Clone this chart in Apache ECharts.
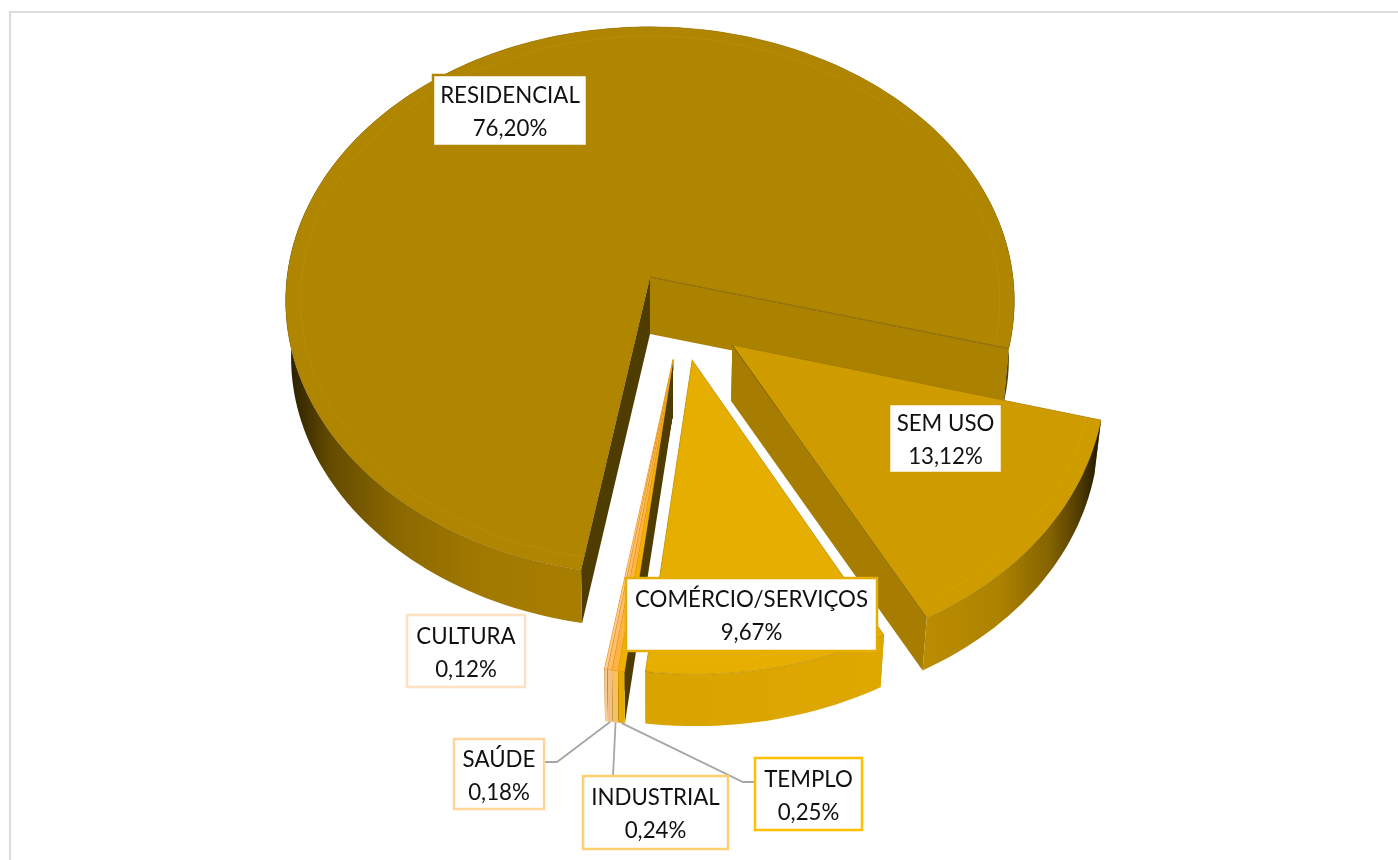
<!DOCTYPE html>
<html>
<head>
<meta charset="utf-8">
<title>Uso do solo</title>
<script src="https://cdn.jsdelivr.net/npm/echarts@6/dist/echarts.min.js"></script>
<style>
  html, body { margin: 0; padding: 0; background: #fff; }
  #chart { width: 1398px; height: 860px; }
</style>
</head>
<body>
<div id="chart"></div>
<script>
// pie order, clockwise from the residential slice
const categories = ['RESIDENCIAL', 'SEM USO', 'COMÉRCIO/SERVIÇOS', 'TEMPLO', 'INDUSTRIAL', 'SAÚDE', 'CULTURA']
const shares = [76.20, 13.12, 9.67, 0.25, 0.24, 0.18, 0.12]

const topColors = ['#b08500', '#cf9c00', '#e6ae00', '#f2b000', '#ffb340', '#ffbe6e', '#ffcb94']
const borderColors = ['#b08500', '#cf9c00', '#e6ae00', '#ffc000', '#ffcf70', '#ffd59a', '#ffe0c0']

// how far each slice is pulled out of the pie, in pie radii
const explode = [[0, 0], [0.222, 0.245], [0.113, 0.296], [0.062, 0.296], [0.062, 0.296], [0.062, 0.296], [0.062, 0.296]]

// label boxes: x, y, width, height
const labelBoxes = [
  [433, 75, 154, 71],
  [889, 404, 113, 69],
  [626, 578, 251, 73],
  [755, 758, 107, 72],
  [583, 776, 145, 73],
  [454, 739, 90, 70],
  [407, 615, 118, 72]
]
// leader line end points, only the tiny slices below the pie have them
const leaders = {
  3: [[743, 782], [754, 782]],
  4: [[613, 776]],
  5: [[557, 762], [544, 762]]
}

// perspective of the tilted pie
const cx = 650
const cy = 277
const radius = 363
const squash = 272
const persp = 0.087
const shrink = 0.985
const startAngle = 100

const rad = (deg) => (deg * Math.PI) / 180

const project = (x, y, bottom) => {
  const s = 1 / (1 - persp * y)
  let px = radius * x * s
  let py = squash * y * s
  if (bottom) {
    px = px * shrink
    py = py + 57 - 4 * y
  }
  return [cx + px, cy + py]
}

const total = shares.reduce((a, b) => a + b, 0)
const slices = []
let angle = startAngle
shares.forEach((v, i) => {
  const span = (v / total) * 360
  slices.push({ from: angle, to: angle + span })
  angle += span
})

const arcPoints = (i, r, bottom) => {
  const { from, to } = slices[i]
  const [ox, oy] = explode[i]
  const steps = Math.max(2, Math.ceil((to - from) / 1.5))
  const pts = []
  for (let k = 0; k <= steps; k++) {
    const a = rad(from + ((to - from) * k) / steps)
    pts.push(project(ox + r * Math.cos(a), oy + r * Math.sin(a), bottom))
  }
  return pts
}

const wallGradient = (stops) => ({
  type: 'linear',
  global: true,
  x: stops[0][0],
  y: 0,
  x2: stops[stops.length - 1][0],
  y2: 0,
  colorStops: stops.map(([x, color]) => ({
    offset: (x - stops[0][0]) / (stops[stops.length - 1][0] - stops[0][0]),
    color
  }))
})

const rimFills = [
  wallGradient([[292, '#2e2200'], [330, '#644b00'], [400, '#8c6900'], [480, '#a17900'], [580, '#a87e00'], [960, '#a87e00'], [1012, '#4a3700']]),
  wallGradient([[922, '#bb8d00'], [1000, '#ad8200'], [1050, '#846300'], [1080, '#4f3b00'], [1098, '#241b00']]),
  wallGradient([[645, '#d9a300'], [880, '#dfa800']]),
  '#e8ac00',
  '#f9c060',
  '#f3c084',
  '#fbc98a'
]
const cutColors = ['#4f3c00', '#a67d00', '#c99700', '#4f3c00', '#4f3c00', '#4f3c00', '#4f3c00']
const backCutColors = ['#ab8100', '#a67d00', '#c99700', '#4f3c00', '#4f3c00', '#4f3c00', '#4f3c00']

// slices are painted back to front
const drawOrder = [0, 1, 2, 6, 5, 4, 3]

const renderSlice = (params, api) => {
  const i = api.value(0)
  const base = params.dataIndex * 10
  const [ox, oy] = explode[i]
  const top = arcPoints(i, 1, false)
  const bottom = arcPoints(i, 1, true)
  const apexTop = project(ox, oy, false)
  const apexBottom = project(ox, oy, true)
  const children = []

  // cut faces: the one at the slice start and the one at its end
  children.push({
    type: 'polygon',
    z2: base,
    shape: { points: [apexTop, top[0], bottom[0], apexBottom] },
    style: { fill: cutColors[i] }
  })
  children.push({
    type: 'polygon',
    z2: base,
    shape: { points: [apexTop, top[top.length - 1], bottom[bottom.length - 1], apexBottom] },
    style: { fill: backCutColors[i] }
  })
  // rounded side
  children.push({
    type: 'polygon',
    z2: base + 1,
    shape: { points: top.concat(bottom.slice().reverse()) },
    style: { fill: rimFills[i] }
  })
  // flat top face
  children.push({
    type: 'polygon',
    z2: base + 2,
    shape: { points: [apexTop].concat(top) },
    style: { fill: topColors[i], stroke: i > 2 ? 'rgba(255,170,40,0.6)' : 'rgba(120,90,0,0.25)', lineWidth: 1, lineJoin: 'round' }
  })
  if (i < 2) {
    // darker seam where the top meets the cut face
    children.push({
      type: 'polyline',
      z2: base + 3,
      shape: { points: [apexTop, top[top.length - 1]] },
      style: { fill: 'none', stroke: 'rgba(80,60,0,0.4)', lineWidth: 1 }
    })
  }
  // faint bevel ring
  if (i < 3) {
    children.push({
      type: 'polyline',
      z2: base + 3,
      shape: { points: arcPoints(i, 0.96, false) },
      style: { fill: 'none', stroke: 'rgba(255,225,120,0.07)', lineWidth: 1 }
    })
  }
  return { type: 'group', children }
}

const fmt = (v) => v.toFixed(2).replace('.', ',') + '%'

const renderLabel = (params, api) => {
  const i = api.value(0)
  const [x, y, w, h] = labelBoxes[i]
  const children = []
  if (leaders[i]) {
    const arc = arcPoints(i, 1, true)
    const start = arc[Math.floor(arc.length / 2)]
    children.push({
      type: 'polyline',
      z2: 90,
      shape: { points: [start].concat(leaders[i]) },
      style: { fill: 'none', stroke: '#a6a6a6', lineWidth: 1.8 }
    })
  }
  children.push({
    type: 'rect',
    z2: 100,
    shape: { x, y, width: w, height: h },
    style: { fill: '#fff', stroke: borderColors[i], lineWidth: 2.5 }
  })
  children.push({
    type: 'text',
    z2: 101,
    style: {
      x: x + w / 2,
      y: y + h / 2 + 2,
      text: categories[i] + '\n' + fmt(shares[i]),
      align: 'center',
      verticalAlign: 'middle',
      font: '400 22.3px Lato',
      lineHeight: 33,
      fill: '#111'
    }
  })
  return { type: 'group', children }
}

const chart = echarts.init(document.getElementById('chart'), null, { renderer: 'canvas' })
chart.setOption({
  animation: false,
  backgroundColor: '#fff',
  graphic: [{
    type: 'rect',
    silent: true,
    shape: { x: 10, y: 12, width: 1600, height: 1000 },
    style: { fill: 'none', stroke: '#dcdcdc', lineWidth: 2 }
  }],
  series: [
    {
      type: 'custom',
      coordinateSystem: 'none',
      silent: true,
      renderItem: renderSlice,
      encode: { value: 0 },
      data: drawOrder.map((i) => [i])
    },
    {
      type: 'custom',
      coordinateSystem: 'none',
      silent: true,
      z: 5,
      renderItem: renderLabel,
      encode: { value: 0 },
      data: categories.map((c, i) => [i])
    }
  ]
})
</script>
</body>
</html>
